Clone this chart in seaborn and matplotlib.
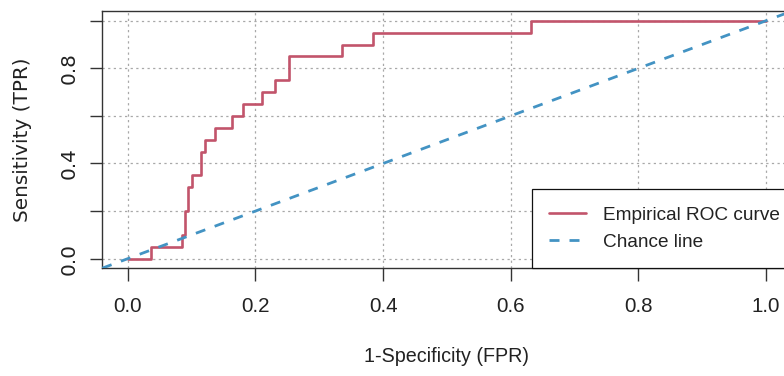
import matplotlib
matplotlib.use("Agg")
import matplotlib.pyplot as plt
from matplotlib import font_manager as fm
import seaborn as sns
import pandas as pd

# ---- data ----
roc_fpr = [0.0, 0.036, 0.0845, 0.0897, 0.094, 0.100, 0.1148, 0.121, 0.137,
           0.163, 0.180, 0.211, 0.231, 0.253, 0.336, 0.385, 0.632, 1.0]
roc_tpr = [0.0, 0.05, 0.10, 0.20, 0.30, 0.35, 0.45, 0.50, 0.55,
           0.60, 0.65, 0.70, 0.75, 0.85, 0.90, 0.95, 1.00, 1.00]
chance_x = [0.0, 1.0]
chance_y = [0.0, 1.0]
x_ticks = [0.0, 0.2, 0.4, 0.6, 0.8, 1.0]
x_tick_labels = ["0.0", "0.2", "0.4", "0.6", "0.8", "1.0"]
y_ticks = [0.0, 0.2, 0.4, 0.6, 0.8, 1.0]
y_tick_labels = ["0.0", "", "0.4", "", "0.8", ""]
series_labels = ["Empirical ROC curve", "Chance line"]
x_title = "1-Specificity (FPR)"
y_title = "Sensitivity (TPR)"

RED = "#C2546B"
BLUE = "#4393C3"
INK = "#222222"


def has_font(name):
    try:
        fm.findfont(fm.FontProperties(family=name), fallback_to_default=False)
        return True
    except Exception:
        return False


if has_font("Liberation Sans Narrow"):
    HFONT, HSIZE, LSIZE, XLSIZE = ["Liberation Sans Narrow", "DejaVu Sans"], 17.0, 16.6, 17.0
else:
    HFONT, HSIZE, LSIZE, XLSIZE = ["Liberation Sans", "DejaVu Sans"], 14.8, 13.7, 14.2
VFONT, VSIZE = ["DejaVu Sans"], 14.4

sns.set_theme(style="white")
plt.rcParams.update({
    "font.family": HFONT,
    "xtick.bottom": True, "ytick.left": True,
    "xtick.direction": "out", "ytick.direction": "out",
    "xtick.major.size": 9, "ytick.major.size": 9,
    "xtick.major.width": 1.0, "ytick.major.width": 1.0,
    "xtick.major.pad": 11.5, "ytick.major.pad": 7.9,
    "xtick.color": "#333333", "ytick.color": "#333333",
    "xtick.labelcolor": INK, "ytick.labelcolor": INK,
})

W, H = 784, 376
fig = plt.figure(figsize=(W / 100, H / 100), dpi=100)
fig.patch.set_facecolor("white")
ax = fig.add_axes([102.2 / W, (H - 268.2) / H, 689.4 / W, 257.0 / H])
ax.set_facecolor("white")

df = pd.DataFrame({"fpr": roc_fpr, "tpr": roc_tpr})
sns.lineplot(data=df, x="fpr", y="tpr", ax=ax, estimator=None, sort=False,
             drawstyle="steps-post", color=RED, linewidth=1.9,
             label=series_labels[0], zorder=3)
ax.axline((chance_x[0], chance_y[0]), (chance_x[1], chance_y[1]),
          color=BLUE, linewidth=2.0, linestyle=(0, (3.6, 3.6)),
          dash_capstyle="butt", label=series_labels[1], zorder=4)

ax.set_xlim(-0.04, 1.04)
ax.set_ylim(-0.04, 1.04)

ax.set_xticks(x_ticks)
ax.set_xticklabels(x_tick_labels, family=HFONT, fontsize=HSIZE, color=INK)
ax.set_yticks(y_ticks)
ax.set_yticklabels(y_tick_labels, family=VFONT, fontsize=VSIZE, color=INK,
                   rotation=90, va="center")

ax.xaxis.set_tick_params(which="major", bottom=True, labelbottom=True,
                         direction="out", length=9, width=1.0, pad=11.5,
                         color="#333333")
ax.yaxis.set_tick_params(which="major", left=True, labelleft=True,
                         direction="out", length=9, width=1.0, pad=7.9,
                         color="#333333")

for s in ax.spines.values():
    s.set_visible(True)
    s.set_color("#333333")
    s.set_linewidth(1.0)

ax.grid(True, which="major", color="#a8a8a8", linewidth=0.9,
        linestyle=(0, (1.8, 2.7)))
ax.set_axisbelow(True)

ax.set_xlabel(x_title, family=HFONT, fontsize=XLSIZE, color=INK)
ax.xaxis.set_label_coords(0.5, -(357.0 - 268.2) / 257.0)
ax.xaxis.label.set_va("center")
ax.set_ylabel(y_title, family=VFONT, fontsize=VSIZE, color=INK)
ax.yaxis.set_label_coords((22.5 - 102.2) / 689.4, 0.5)
ax.yaxis.label.set_va("center")

leg = ax.legend(loc="lower left", bbox_to_anchor=((531.7 - 102.2) / 689.4, 0.0),
                bbox_transform=ax.transAxes, borderaxespad=0.0,
                frameon=True, fancybox=False, framealpha=1.0, shadow=False,
                borderpad=0.92, handlelength=1.93, handletextpad=0.88,
                labelspacing=0.49, prop={"family": HFONT, "size": LSIZE})
leg.get_frame().set_edgecolor("#111111")
leg.get_frame().set_linewidth(0.9)
leg.get_frame().set_facecolor("white")
for t in leg.get_texts():
    t.set_color(INK)

fig.savefig("out.png", dpi=100, facecolor="white")
